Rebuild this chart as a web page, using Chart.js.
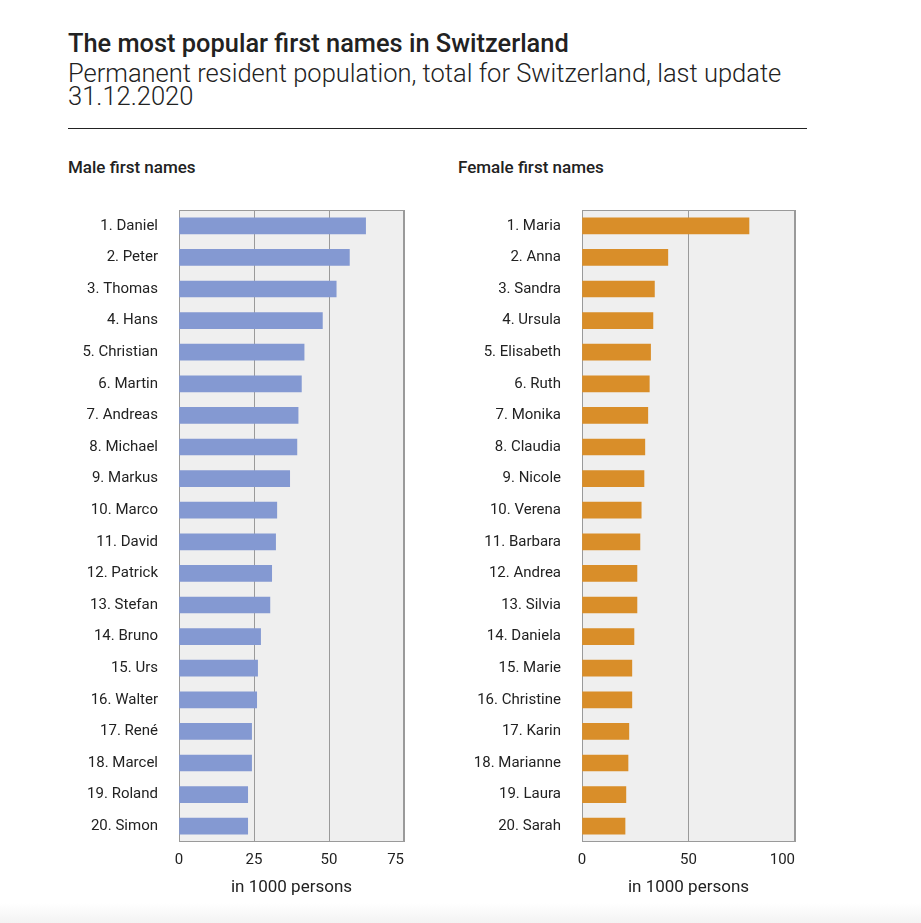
<!DOCTYPE html>
<html lang="en">
<head>
    <meta charset="UTF-8">
    <title>The most popular first names in Switzerland</title>
    <script src="https://cdn.jsdelivr.net/npm/chart.js"></script>
    <style>
        html, body { margin: 0; padding: 0; background: #fff; }
        body { width: 921px; height: 923px; position: relative; overflow: hidden; font-family: Roboto, sans-serif; color: #222; }
        .title { position: absolute; left: 68px; top: 28px; font-size: 25.4px; font-weight: 500; color: #222; }
        .subtitle { position: absolute; left: 68px; top: 62px; width: 760px; font-size: 25.5px; font-weight: 300; line-height: 23px; color: #222; }
        .rule { position: absolute; left: 68px; top: 128px; width: 739px; height: 1px; background: #222; }
        .panel-title { position: absolute; top: 157px; font-size: 17px; font-weight: 500; color: #222; }
        .chart-box { position: absolute; top: 200px; width: 360px; height: 700px; }
        .fade { position: absolute; left: 0; top: 903px; width: 921px; height: 20px; background: linear-gradient(#fff, #f3f3f3); }
    </style>
</head>
<body>
    <div class="title">The most popular first names in Switzerland</div>
    <div class="subtitle">Permanent resident population, total for Switzerland, last update 31.12.2020</div>
    <div class="rule"></div>

    <div class="panel-title" style="left: 68px;">Male first names</div>
    <div class="panel-title" style="left: 458px;">Female first names</div>

    <div class="chart-box" style="left: 60px;"><canvas id="maleChart"></canvas></div>
    <div class="chart-box" style="left: 450px;"><canvas id="femaleChart"></canvas></div>
    <div class="fade"></div>

    <script>
        // Data (in 1000 persons)
        const maleNames = ['1. Daniel', '2. Peter', '3. Thomas', '4. Hans', '5. Christian', '6. Martin', '7. Andreas',
            '8. Michael', '9. Markus', '10. Marco', '11. David', '12. Patrick', '13. Stefan', '14. Bruno', '15. Urs',
            '16. Walter', '17. René', '18. Marcel', '19. Roland', '20. Simon'];
        const maleValues = [62.2, 56.8, 52.4, 47.8, 41.7, 40.8, 39.7, 39.3, 36.9, 32.6, 32.2, 30.9, 30.3, 27.2,
            26.2, 25.9, 24.2, 24.2, 22.9, 22.9];

        const femaleNames = ['1. Maria', '2. Anna', '3. Sandra', '4. Ursula', '5. Elisabeth', '6. Ruth', '7. Monika',
            '8. Claudia', '9. Nicole', '10. Verena', '11. Barbara', '12. Andrea', '13. Silvia', '14. Daniela', '15. Marie',
            '16. Christine', '17. Karin', '18. Marianne', '19. Laura', '20. Sarah'];
        const femaleValues = [78.4, 40.3, 34.0, 33.3, 32.2, 31.6, 30.9, 29.5, 29.1, 27.8, 27.2, 25.8, 25.8, 24.4,
            23.4, 23.4, 22.0, 21.6, 20.6, 20.2];

        const maleTicks = [0, 25, 50, 75];
        const femaleTicks = [0, 50, 100];
        const axisTitle = 'in 1000 persons';

        // plot background + frame
        const plotFrame = {
            id: 'plotFrame',
            beforeDraw(chart) {
                const { ctx, chartArea: a } = chart;
                ctx.save();
                ctx.fillStyle = '#efefef';
                ctx.fillRect(a.left, a.top, a.right - a.left, a.bottom - a.top);
                ctx.restore();
            },
            beforeDatasetsDraw(chart) {
                const { ctx, chartArea: a } = chart;
                ctx.save();
                ctx.strokeStyle = '#9a9a9a';
                ctx.lineWidth = 1;
                ctx.strokeRect(Math.round(a.left) + 0.5, Math.round(a.top) + 0.5,
                    Math.round(a.right - a.left) - 1, Math.round(a.bottom - a.top) - 1);
                ctx.restore();
            }
        };

        function makeChart(id, names, values, ticks, color, yWidth, padRight) {
            const step = ticks[1] - ticks[0];
            return new Chart(document.getElementById(id), {
                type: 'bar',
                data: {
                    labels: names,
                    datasets: [{ data: values, backgroundColor: color, barThickness: 16 }]
                },
                options: {
                    indexAxis: 'y',
                    responsive: true,
                    maintainAspectRatio: false,
                    animation: false,
                    layout: { padding: { top: 10, right: padRight, left: 0, bottom: 0 } },
                    plugins: { legend: { display: false }, tooltip: { enabled: false } },
                    scales: {
                        x: {
                            min: ticks[0],
                            max: ticks[ticks.length - 1],
                            afterFit(scale) {
                                scale.height = 58;
                                scale.paddingLeft = 0;
                                scale.paddingRight = 0;
                            },
                            afterBuildTicks(scale) { scale.ticks = ticks.map(v => ({ value: v })); },
                            grid: { color: '#9a9a9a', drawTicks: false },
                            border: { display: false },
                            ticks: {
                                stepSize: step, padding: 9, color: '#222', font: { family: 'Roboto', size: 15 },
                                // last label sits inside the frame's right edge
                                callback: (v, i, all) => i === all.length - 1
                                    ? String(v) + '\u2007'.repeat(String(v).length) : String(v)
                            },
                            title: {
                                display: true, text: axisTitle, color: '#222',
                                font: { family: 'Roboto', size: 17 }, padding: { top: 0, bottom: 2 }
                            }
                        },
                        y: {
                            afterFit(scale) {
                                scale.width = yWidth;
                                scale.paddingTop = 0;
                                scale.paddingBottom = 0;
                            },
                            grid: { display: false, drawTicks: false },
                            border: { display: false },
                            ticks: { padding: 21, color: '#222', font: { family: 'Roboto', size: 15 } }
                        }
                    }
                },
                plugins: [plotFrame]
            });
        }

        makeChart('maleChart', maleNames, maleValues, maleTicks, '#8499d2', 119, 16);
        makeChart('femaleChart', femaleNames, femaleValues, femaleTicks, '#d98e29', 132, 15);
    </script>
</body>
</html>
